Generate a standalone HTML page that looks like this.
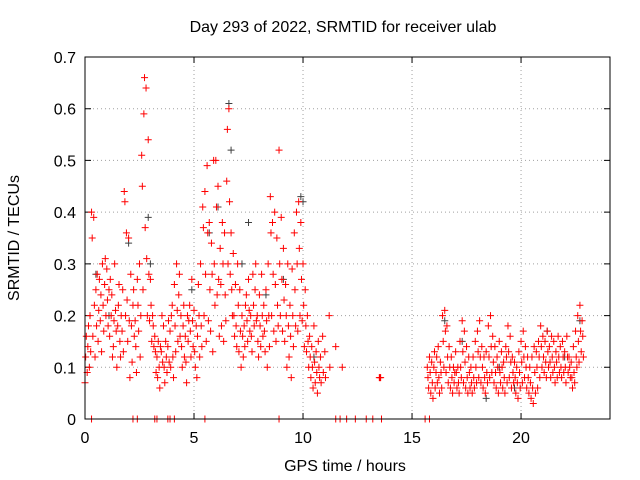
<!DOCTYPE html>
<html><head><meta charset="utf-8"><style>
html,body{margin:0;padding:0;background:#fff}
svg{display:block;font-family:"Liberation Sans",sans-serif}
</style></head><body>
<svg id="chart" width="640" height="480" xmlns="http://www.w3.org/2000/svg">
<rect x="0" y="0" width="640" height="480" fill="#fff"/>
<text x="343" y="32" font-size="16" text-anchor="middle">Day 293 of 2022, SRMTID for receiver ulab</text>
<text x="345" y="471" font-size="16" text-anchor="middle">GPS time / hours</text>
<text x="19" y="238" font-size="16" text-anchor="middle" transform="rotate(-90 19 238)">SRMTID / TECUs</text>
<g id="grid"></g>
<g id="axes"></g>
<g id="marks"></g>
<rect x="85" y="57" width="525" height="362" fill="none" stroke="#000" stroke-width="1"/>
</svg>
<script>
const xTicks=[0,5,10,15,20];
const yTicks=[0,0.1,0.2,0.3,0.4,0.5,0.6,0.7];
const redTimes=[0.0,0.1,0.2,0.3,0.4,0.5,0.6,0.7,0.8,0.9,1.0,1.1,1.2,1.3,1.4,1.5,1.6,1.7,1.8,1.9,2.0,2.1,2.2,2.3,2.4,2.5,2.6,2.7,2.8,2.9,3.0,3.1,3.2,3.3,3.4,3.5,3.6,3.7,3.8,3.9,4.0,4.1,4.2,4.3,4.4,4.5,4.6,4.7,4.8,4.9,5.0,5.1,5.2,5.3,5.4,5.5,5.6,5.7,5.8,5.9,6.0,6.1,6.2,6.3,6.4,6.5,6.6,6.7,6.8,6.9,7.0,7.1,7.2,7.3,7.4,7.5,7.6,7.7,7.8,7.9,8.0,8.1,8.2,8.3,8.4,8.5,8.6,8.7,8.8,8.9,9.0,9.1,9.2,9.3,9.4,9.5,9.6,9.7,9.8,9.9,10.0,10.1,10.2,10.3,10.4,10.5,10.6,10.7,10.8,10.9,11.0,11.2,11.5,11.8,13.5,
15.7,15.8,15.9,16.0,16.1,16.2,16.3,16.4,16.5,16.6,16.7,16.8,16.9,17.0,17.1,17.2,17.3,17.4,17.5,17.6,17.7,17.8,17.9,18.0,18.1,18.2,18.3,18.4,18.5,18.6,18.7,18.8,18.9,19.0,19.1,19.2,19.3,19.4,19.5,19.6,19.7,19.8,19.9,20.0,20.1,20.2,20.3,20.4,20.5,20.6,20.7,20.8,20.9,21.0,21.1,21.2,21.3,21.4,21.5,21.6,21.7,21.8,21.9,22.0,22.1,22.2,22.3,22.4,22.5,22.6,22.7,22.8];
const redValues=[[.07,.12,.16],[.09,.14,.18],[.1,.2,.13],[.4,.35,.16],[.39,.22,.12],[.25,.18,.28],[.15,.21,.27],[.19,.24,.13],[.3,.22,.17],[.26,.31,.2],[.29,.23,.18],[.25,.16,.27],[.2,.24,.12],[.14,.19,.3],[.21,.17,.1],[.18,.22,.26],[.15,.12,.2],[.17,.25,.13],[.44,.42,.2],[.36,.23,.15],[.35,.19,.08],[.28,.18,.11],[.22,.25,.16],[.19,.14,.09],[.27,.22,.17],[.3,.12,.2],[.51,.45,.25],[.59,.66,.37],[.64,.31,.2],[.54,.28,.19],[.27,.22,.15],[.2,.18,.14],[.16,.13,.09],[.12,.08,.15],[.1,.06,.14],[.13,.2,.11],[.18,.1,.07],[.15,.12,.09],[.14,.19,.11],[.17,.1,.2],[.22,.12,.08],[.26,.18,.13],[.3,.21,.15],[.24,.28,.16],[.2,.14,.1],[.18,.22,.12],[.16,.11,.07],[.2,.15,.19],[.22,.17,.12],[.27,.19,.14],[.21,.13,.1],[.18,.08,.16],[.26,.2,.12],[.3,.18,.14],[.41,.37,.2],[.44,.28,.15],[.49,.36,.19],[.38,.25,.17],[.34,.28,.13],[.5,.3,.22],[.5,.41,.24],[.45,.27,.16],[.33,.26,.18],[.38,.3,.15],[.36,.24,.19],[.46,.56,.3],[.6,.42,.28],[.36,.25,.2],[.32,.2,.16],[.26,.18,.14],[.3,.22,.13],[.25,.17,.1],[.2,.16,.12],[.18,.14,.22],[.24,.19,.15],[.27,.21,.17],[.2,.16,.13],[.28,.22,.18],[.25,.3,.19],[.2,.15,.12],[.24,.18,.14],[.28,.2,.16],[.22,.17,.13],[.25,.19,.1],[.3,.2,.14],[.43,.36,.2],[.38,.28,.17],[.4,.26,.15],[.35,.22,.18],[.52,.3,.2],[.39,.27,.17],[.33,.23,.15],[.26,.2,.1],[.3,.18,.12],[.22,.16,.08],[.29,.2,.14],[.36,.25,.18],[.4,.3,.17],[.42,.33,.2],[.38,.27,.19],[.3,.22,.14],[.25,.18,.13],[.2,.15,.1],[.16,.12,.08],[.14,.1,.06],[.18,.11,.07],[.13,.09,.05],[.15,.1,.08],[.12,.07],[.16,.09],[.13,.08],[.2,.1],[.14],[.1],[.08,.08,.08],
[.1,.08,.06],[.12,.09,.05],[.11,.07,.04],[.1,.13,.06],[.09,.12,.07],[.14,.08,.05],[.11,.09,.06],[.2,.15,.1],[.21,.17,.09],[.18,.12,.07],[.14,.1,.06],[.12,.08,.05],[.1,.07,.09],[.13,.09,.06],[.1,.07,.05],[.15,.1,.08],[.19,.13,.07],[.17,.11,.06],[.14,.08,.05],[.12,.09,.06],[.1,.07,.05],[.12,.08,.06],[.15,.1,.07],[.17,.13,.08],[.19,.12,.07],[.14,.1,.06],[.12,.08,.05],[.13,.09,.07],[.18,.12,.08],[.2,.14,.09],[.16,.11,.07],[.14,.09,.06],[.12,.1,.05],[.15,.09,.07],[.13,.1,.06],[.11,.08,.05],[.14,.12,.07],[.18,.13,.08],[.16,.11,.06],[.12,.09,.07],[.11,.08,.05],[.1,.07,.04],[.13,.09,.06],[.15,.11,.07],[.17,.12,.08],[.14,.1,.06],[.12,.08,.05],[.1,.07,.04],[.12,.06,.03],[.14,.09,.05],[.13,.1,.06],[.15,.12,.08],[.18,.14,.1],[.16,.12,.09],[.15,.11,.08],[.17,.13,.1],[.14,.11,.08],[.16,.12,.09],[.15,.1,.07],[.13,.11,.08],[.16,.12,.09],[.14,.1,.08],[.15,.12,.09],[.13,.1,.07],[.16,.12,.09],[.12,.1,.08],[.11,.08,.06],[.14,.09,.07],[.17,.12,.1],[.2,.15,.11],[.22,.17,.13],[.19,.16,.12]];
const zeroTimes=[0.3,2.2,2.4,3.2,3.3,3.8,3.9,4.1,5.5,8.9,11.5,11.7,12.0,12.4,12.9,13.2,13.6,15.6,15.8];
const blackTimes=[0.5,1.1,2.0,2.9,3.0,4.9,5.7,6.1,6.6,6.7,7.2,7.5,8.3,9.1,9.9,10.0,10.5,16.5,17.3,18.4,19.0,19.7,21.2,22.0,22.7];
const blackValues=[0.28,0.2,0.34,0.39,0.3,0.25,0.36,0.41,0.61,0.52,0.3,0.38,0.24,0.27,0.43,0.42,0.12,0.19,0.15,0.04,0.1,0.06,0.17,0.12,0.19];
const X0=85,X1=610,Y0=419,Y1=57,TMAX=24.08,VMAX=0.7;
function sx(t){return X0+(t/TMAX)*(X1-X0);}
function sy(v){return Y0-(v/VMAX)*(Y0-Y1);}
const NS="http://www.w3.org/2000/svg";
const grid=document.getElementById('grid'),axes=document.getElementById('axes'),marks=document.getElementById('marks');
function mk(tag,attrs,parent){const e=document.createElementNS(NS,tag);for(const k in attrs)e.setAttribute(k,attrs[k]);parent.appendChild(e);return e;}
yTicks.forEach(v=>{const y=sy(v);
 if(v>0&&v<0.7){const g=mk('line',{x1:X0,x2:X1,y1:y,y2:y,stroke:'#a0a0a0','stroke-dasharray':'1,3'},grid);
 
 }
 const tk=mk('path',{d:`M${X0} ${y}h6M${X1} ${y}h-6`,stroke:'#000'},axes);
 
 
 const t=mk('text',{x:X0-9,y:y+6,'font-size':16,'text-anchor':'end'},axes);t.textContent=v===0?'0':String(v);
 
 });
xTicks.forEach(v=>{const x=sx(v);
 if(v>0){const g=mk('line',{x1:x,x2:x,y1:Y0,y2:Y1,stroke:'#a0a0a0','stroke-dasharray':'1,3'},grid);
 
 }
 const tk=mk('path',{d:`M${x} ${Y0}v-6M${x} ${Y1}v6`,stroke:'#000'},axes);
 
 
 const t=mk('text',{x:x,y:Y0+24,'font-size':16,'text-anchor':'middle'},axes);t.textContent=String(v);
 
 });
function plus(t,v,color,name){const x=sx(t),y=sy(v);
 const p=mk('path',{d:`M${x-3.5} ${y}h7M${x} ${y-3.5}v7`,stroke:color,'stroke-width':1},marks);
 
 }
blackTimes.forEach((t,i)=>plus(t,blackValues[i],'#404040','black-point'));
redTimes.forEach((t,i)=>{redValues[i].forEach((v,j)=>{plus(t+j*0.03,v,'#ff0000','red-point');});});
zeroTimes.forEach(t=>plus(t,0,'#ff0000','zero-point'));
</script>
</body></html>
